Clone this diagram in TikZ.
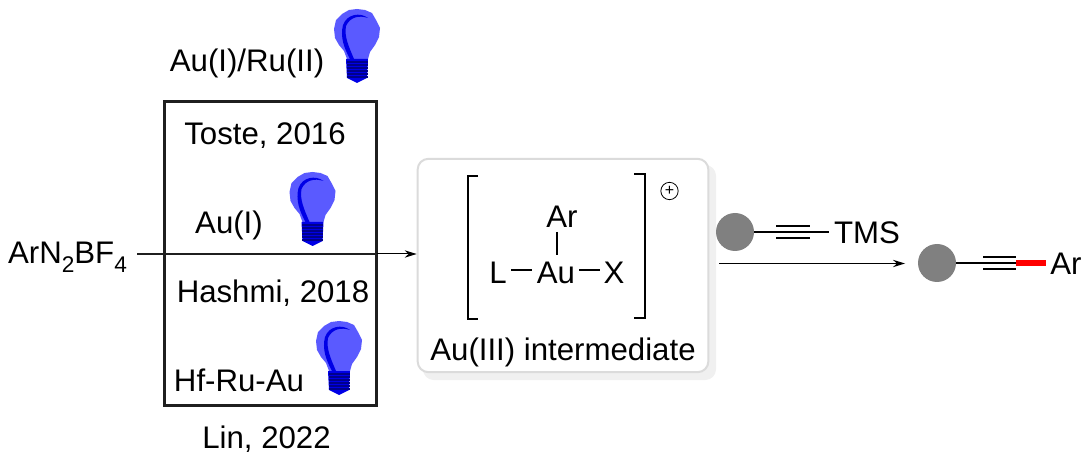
\documentclass[tikz,border=0pt]{standalone}
\usepackage{fontspec}
\setmainfont{Liberation Sans}
\usetikzlibrary{arrows.meta}
\definecolor{bulblight}{HTML}{5A5AFF}
\definecolor{bulbdark}{HTML}{0000E6}
\definecolor{bulbbase}{HTML}{00008C}
\definecolor{ballgrey}{HTML}{808080}
\newcommand{\subdigit}[1]{\raisebox{-6.5pt}{\fontsize{17}{17}\selectfont #1}}
\tikzset{
  x=0.75pt,y=-0.75pt,
  lbl/.style={inner sep=0pt,font=\fontsize{23.4}{28}\selectfont,text=black,anchor=center},
  ball/.style={circle,fill=ballgrey,minimum size=28.5pt,inner sep=0pt},
  bondl/.style={line width=1.1pt,black},
  thinl/.style={line width=0.8pt,black},
  arr/.style={line width=0.75pt,black,-{Stealth[length=9pt,width=5.5pt]}},
  bulb/.pic={
    \fill[bulblight] (0,0) -- (8,1) -- (15,4) -- (19,11) -- (23,19) -- (22,28) -- (18,36) -- (13,43) -- (11,50) -- (-10,50) -- (-13,42) -- (-18,36) -- (-22,29) -- (-23,20) -- (-21,11) -- (-15,5) -- (-8,1) -- cycle;
    \fill[bulbdark] (11,9) .. controls (2,6) and (-7,8) .. (-11,17) .. controls (-13,28) and (-8,38) .. (-3,50) -- (-7,50) .. controls (-13,39) and (-17,28) .. (-14,16) .. controls (-10,5) and (3,3) .. (11,9) -- cycle;
    \fill[bulbdark] (-11,50) -- (11,50) -- (10,69) -- (0,74) -- (-10,69) -- cycle;
    \foreach \yy in {53,56,59,62,65,68}{\draw[bulbbase,line width=1pt] (-10.5,\yy) -- (10.5,\yy);}
  }
}
\begin{document}
\begin{tikzpicture}
\useasboundingbox (0,0) rectangle (1091,466);
% shadow and rounded frame
\fill[black!6,rounded corners=8pt] (423,165) rectangle (716,380);
\node[draw=black!14,line width=1.5pt,fill=white,rounded corners=8pt,minimum width=218pt,minimum height=160pt,inner sep=0pt] (frame) at (563,265.5) {};
% catalyst box
\node[draw=black!88,line width=1.6pt,minimum width=159pt,minimum height=228pt,inner sep=0pt] (catbox) at (270.5,253.5) {};
\node[lbl] (ausalt) at (67.5,257) {ArN\subdigit{2}BF\subdigit{4}};
\coordinate (mainstart) at (137,254);
\coordinate (boxexit) at (377,254);
\draw[line width=1.6pt,black!88] (mainstart) -- (boxexit);
\draw[arr] (boxexit) -- (frame.west |- boxexit);
% labels
\node[lbl] (t1) at (247,63) {Au(I)/Ru(II)};
\node[lbl] (t2) at (265,135.5) {Toste, 2016};
\node[lbl] (t3) at (229,225) {Au(I)};
\node[lbl] (t4) at (273,293) {Hashmi, 2018};
\node[lbl] (t5) at (239,380) {Hf-Ru-Au};
\node[lbl] (t6) at (266.5,439.5) {Lin, 2022};
\pic at (357,9) {bulb};
\pic at (312.5,172) {bulb};
\pic at (339,321) {bulb};
% Au(III) complex
\draw[line width=1.2pt,black] (478,176) -- (468,176) -- (468,319) -- (478,319);
\draw[line width=1.2pt,black] (634,174) -- (645,174) -- (645,318) -- (634,318);
\node[circle,draw=black,line width=0.6pt,minimum size=13pt,inner sep=0pt,font=\fontsize{12}{12}\selectfont] (plus) at (669.5,191) {+};
\node[lbl] (ar) at (562,217) {Ar};
\node[lbl] (ligand) at (498,272.5) {L};
\node[lbl] (gold) at (556,272.5) {Au};
\node[lbl] (xx) at (614,272.5) {X};
\draw[thinl] (557,232) -- (557,255);
\draw[thinl] (511,270) -- (532,270);
\draw[thinl] (579,270) -- (600,270);
\node[lbl] (intlab) at (563,352) {Au(III) intermediate};
% alkyne reagent
\node[ball] (b1) at (735,232) {};
\node[lbl] (tms) at (867,233) {TMS};
\draw[bondl] (b1) -- (829,232);
\draw[bondl] (776,226) -- (810,226);
\draw[bondl] (776,238) -- (810,238);
% reaction arrow
\node[ball] (b2) at (937,263) {};
\coordinate (rxnstart) at (719,263.5);
\draw[arr] (rxnstart) -- (905,263.5);
% product
\node[lbl] (ar2) at (1066,264) {Ar};
\draw[bondl] (b2) -- (1016,263);
\draw[bondl] (983,257) -- (1016,257);
\draw[bondl] (983,269) -- (1016,269);
\draw[red,line width=4.5pt] (1016,263) -- (1046,263);
\end{tikzpicture}
\end{document}
